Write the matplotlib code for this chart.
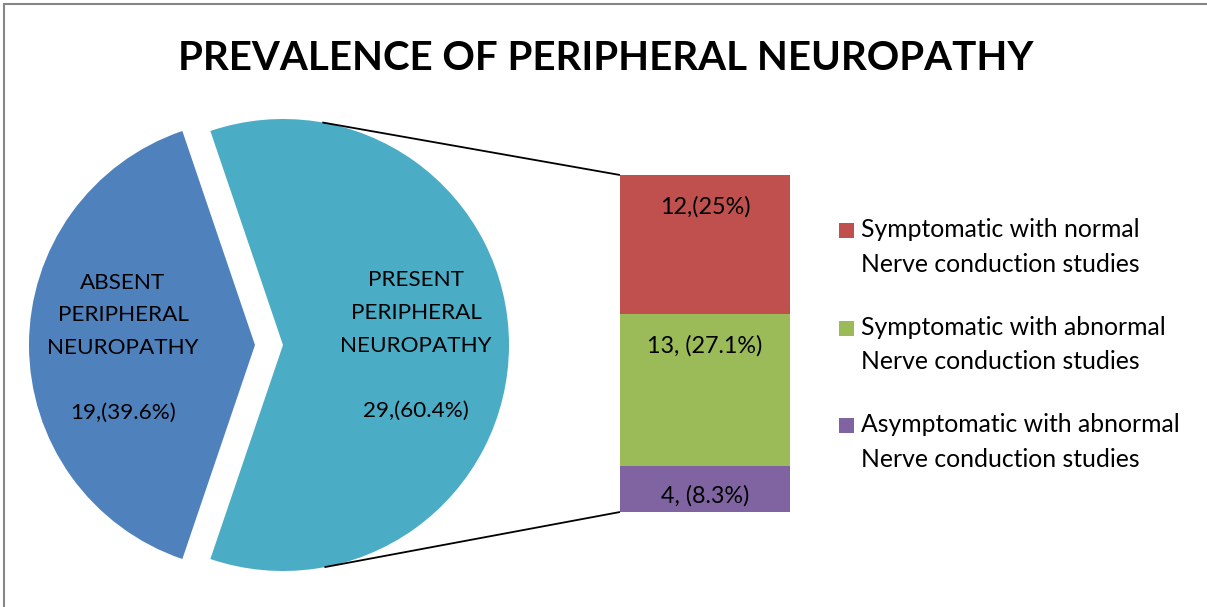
import matplotlib.pyplot as plt
import numpy as np
from matplotlib.patches import Rectangle

title = "PREVALENCE OF PERIPHERAL NEUROPATHY"
pie_names = ["ABSENT\nPERIPHERAL\nNEUROPATHY", "PRESENT\nPERIPHERAL\nNEUROPATHY"]
pie_values = [19, 29]
pie_value_labels = ["19,(39.6%)", "29,(60.4%)"]
pie_colors = ["#4F81BD", "#4BACC6"]

# stacked bar, bottom to top
bar_names = ["Asymptomatic with abnormal\nNerve conduction studies",
             "Symptomatic with abnormal\nNerve conduction studies",
             "Symptomatic with normal\nNerve conduction studies"]
bar_values = [4, 13, 12]
bar_value_labels = ["4, (8.3%)", "13, (27.1%)", "12,(25%)"]
bar_colors = ["#8064A2", "#9BBB59", "#C0504D"]

FONT = "Lato"
W, H = 1207, 607
fig = plt.figure(figsize=(W / 100, H / 100), dpi=100)
ax = fig.add_axes([0, 0, 1, 1])


def py(y):
    return H - y


# pie
wedges, _ = ax.pie(pie_values, colors=pie_colors,
                   startangle=180 - 180 * pie_values[0] / sum(pie_values),
                   counterclock=True, center=(255, py(345)), radius=226,
                   explode=[0, 28], frame=True)
ax.set_xlim(0, W)
ax.set_ylim(0, H)
ax.set_aspect('auto')
ax.axis('off')

ax.text(123, py(348), pie_names[0] + "\n\n" + pie_value_labels[0], ha='center', va='center',
        fontsize=16.2, family=FONT, linespacing=1.79)
ax.text(416, py(345.5), pie_names[1] + "\n\n" + pie_value_labels[1], ha='center', va='center',
        fontsize=16.2, family=FONT, linespacing=1.79)

# bar of pie
bx0, by0, bw, bh = 620, 512, 170, 337
bax = fig.add_axes([bx0 / W, (H - by0) / H, bw / W, bh / H])
bottoms = np.concatenate([[0], np.cumsum(bar_values)[:-1]])
bax.bar([0] * len(bar_values), bar_values, bottom=bottoms, width=1, color=bar_colors)
bax.set_xlim(-0.5, 0.5)
bax.set_ylim(0, sum(bar_values))
bax.axis('off')
label_offsets = [0.34, 0.79, 0.77]  # fraction within segment
for b, v, lab, f in zip(bottoms, bar_values, bar_value_labels, label_offsets):
    bax.text(0, b + v * f, lab, ha='center', va='center', fontsize=16.8, family=FONT)

# connector lines (tangents from bar corners to exploded slice)
fig.canvas.draw()
inv = ax.transData.inverted()
top_corner = inv.transform(bax.transData.transform((-0.5, sum(bar_values))))
bot_corner = inv.transform(bax.transData.transform((-0.5, 0)))
cx, cy = wedges[1].center
r = wedges[1].r
for corner, sgn in [(top_corner, 1), (bot_corner, -1)]:
    dx, dy = corner[0] - cx, corner[1] - cy
    d = np.hypot(dx, dy)
    ang = np.arctan2(dy, dx) + sgn * np.arccos(r / d)
    tx, ty = cx + r * np.cos(ang), cy + r * np.sin(ang)
    ax.plot([tx, corner[0]], [ty, corner[1]], color='black', lw=1.3, solid_capstyle='butt')

# legend (top to bottom)
leg_tops = [223, 320.5, 418]
for name, col, t in zip(bar_names[::-1], bar_colors[::-1], leg_tops):
    ax.add_patch(Rectangle((839, py(t + 15)), 15, 15, color=col, lw=0))
    ax.text(861, py(t + 7.5 + 16.5), name, ha='left', va='center', fontsize=17.8, family=FONT,
            linespacing=1.58)

# title
ax.text(605.5, py(59), title, ha='center', va='center', fontsize=29, fontweight='bold', family=FONT)

# border
ax.add_patch(Rectangle((4, py(620)), 1230, 616, fill=False, edgecolor='#868686', lw=1.5))

fig.savefig("out.png", dpi=100)
